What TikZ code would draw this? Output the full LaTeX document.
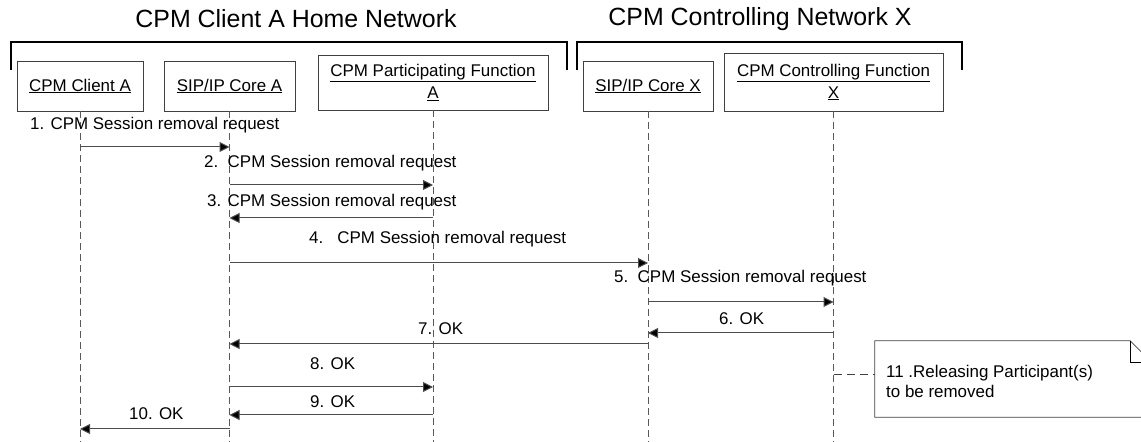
\documentclass[tikz,border=0pt]{standalone}
\usepackage{fontspec}
\setmainfont{Liberation Sans}
\usetikzlibrary{arrows.meta}
\begin{document}
\begin{tikzpicture}[x=1bp,y=-1bp,
  box/.style={draw=black!75, line width=0.8bp, align=center, inner sep=0pt, font=\fontsize{17}{22}\selectfont},
  life/.style={draw=black!65, line width=0.8bp, dash pattern=on 7bp off 4bp},
  msg/.style={draw=black!70, line width=1bp, -{Triangle[length=10bp,width=10bp,fill=black]}},
  lbl/.style={anchor=west, inner sep=0pt, font=\fontsize{17}{20}\selectfont},
  ttl/.style={font=\fontsize{25}{30}\selectfont, inner sep=0pt},
  brk/.style={draw=black, line width=1.3bp},
  notelink/.style={draw=black!75, line width=1bp, dash pattern=on 8bp off 5bp}]
\useasboundingbox (0,0) rectangle (1141,442);
\clip (0,0) rectangle (1141,442);
% titles
\node[ttl] (t1) at (296,19) {CPM Client A Home Network};
\node[ttl] (t2) at (760,19) {CPM Controlling Network X};
% brackets
\draw[brk] (11,70) |- (567,42) -- (567,70);
\draw[brk] (577,70) |- (962,42) -- (962,70);
% participants
\node[box, minimum width=126bp, minimum height=50bp] (ca) at (80,86) {\underline{CPM Client A}};
\node[box, minimum width=131bp, minimum height=50bp] (sa) at (229.5,86) {\underline{SIP/IP Core A}};
\node[box, minimum width=230bp, minimum height=55bp] (pf) at (433,82.5) {\underline{CPM Participating Function}\\\underline{A}};
\node[box, minimum width=130bp, minimum height=50bp] (sx) at (648,86) {\underline{SIP/IP Core X}};
\node[box, minimum width=219bp, minimum height=58bp] (cf) at (833.5,82) {\underline{CPM Controlling Function}\\\underline{X}};
% lifelines
\coordinate (bot) at (0,442);
\foreach \n in {ca,sa,pf,sx,cf} \draw[life] (\n.south) -- (\n.south |- bot);
% message rows
\foreach \i/\y in {1/147,2/185,3/218,4/263,5/302,6/333,7/344,8/387,9/415,10/429}
  \coordinate (r\i) at (0,\y);
\draw[msg] (ca.south |- r1) -- (sa.south |- r1);
\draw[msg] (sa.south |- r2) -- (pf.south |- r2);
\draw[msg] (pf.south |- r3) -- (sa.south |- r3);
\draw[msg] (sa.south |- r4) -- (sx.south |- r4);
\draw[msg] (sx.south |- r5) -- (cf.south |- r5);
\draw[msg] (cf.south |- r6) -- (sx.south |- r6);
\draw[msg] (sx.south |- r7) -- (sa.south |- r7);
\draw[msg] (sa.south |- r8) -- (pf.south |- r8);
\draw[msg] (pf.south |- r9) -- (sa.south |- r9);
\draw[msg] (sa.south |- r10) -- (ca.south |- r10);
% labels
\node[lbl] (l1) at (30,125) {1. CPM Session removal request};
\node[lbl] (l2) at (204,163) {2.\ \ CPM Session removal request};
\node[lbl] (l3) at (207,202) {3. CPM Session removal request};
\node[lbl] (l4) at (309,239) {4.\ \ \ CPM Session removal request};
\node[lbl] (l5) at (614,278) {5.\ \ CPM Session removal request};
\node[lbl] (l6) at (719,319) {6. OK};
\node[lbl] (l7) at (418,329) {7. OK};
\node[lbl] (l8) at (310,364) {8. OK};
\node[lbl] (l9) at (310,402) {9. OK};
\node[lbl] (l10) at (129,414) {10. OK};
% note
\node[minimum width=277bp, minimum height=76bp, inner sep=0pt] (note) at (1013.5,379) {};
\draw[draw=black!75, line width=0.8bp] (note.north west) -- ([xshift=-22bp]note.north east) -- ([yshift=-22bp]note.north east) -- (note.south east) -- (note.south west) -- cycle;
\draw[draw=black, line width=1bp] ([xshift=-22bp]note.north east) -- ([xshift=-22bp,yshift=-22bp]note.north east) -- ([yshift=-22bp]note.north east);
\node[anchor=west, align=left, inner sep=0pt, font=\fontsize{17}{20}\selectfont] (nt) at (886,381) {11 .Releasing Participant(s)\\to be removed};
\coordinate (nl) at ([yshift=4bp]note.west);
\draw[notelink] (cf.south |- nl) -- (nl);
\end{tikzpicture}
\end{document}
